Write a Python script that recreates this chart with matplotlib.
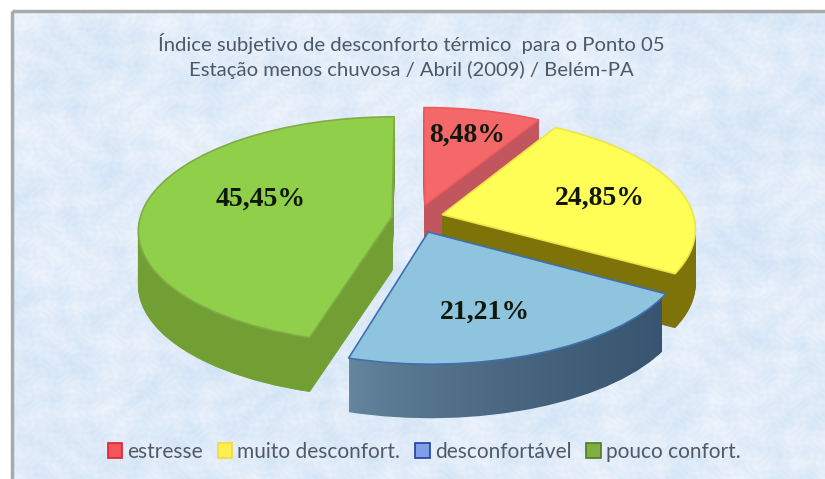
import numpy as np
import matplotlib
matplotlib.use("Agg")
import matplotlib.pyplot as plt
from matplotlib.path import Path
from matplotlib.patches import PathPatch, Patch, Rectangle

title = "Índice subjetivo de desconforto térmico  para o Ponto 05\nEstação menos chuvosa / Abril (2009) / Belém-PA"
categories = ["estresse", "muito desconfort.", "desconfortável", "pouco confort."]
values = [8.48, 24.85, 21.21, 45.45]
labels = ["8,48%", "24,85%", "21,21%", "45,45%"]
explode = [0.12, 0.12, 0.17, 0.08]

top_colors = ["#f4686a", "#ffff57", "#8fc4de", "#90cf49"]
wall_colors = ["#c2565f", "#7d7308", "#4a6478", "#729f33"]
edge_colors = ["#ee5a5e", "#f0e448", "#3f6fb0", "#82ab48"]
legend_face = ["#f2555a", "#ffef50", "#7f9fe8", "#7fae45"]
legend_edge = ["#e02030", "#f5d840", "#1f3fa0", "#4f7a20"]
label_xy = [(467, 135), (600, 198), (485, 312), (261, 199)]
nudge = [(5, 0), (1, 0), (0, -4), (0, 0)]

cx, cy = 412, 218
rx, ry, k = 252, 112, 0.118
depth = 54

fig = plt.figure(figsize=(8.25, 4.79), dpi=100, facecolor="white")
ax = fig.add_axes([0, 0, 1, 1])

# pie gives the unit wedges, they get warped to the tilted view below
wedges, _ = ax.pie(values, explode=explode, startangle=90, counterclock=False)
paths = [w.get_path() for w in wedges]
for w in wedges:
    w.remove()
ax.set_aspect("auto")
ax.set_xlim(0, 825)
ax.set_ylim(479, 0)
ax.axis("off")


def warp(path, i, down=0):
    u, v = path.vertices[:, 0], path.vertices[:, 1]
    s = 1 / (1 + k * v)
    xy = np.column_stack([cx + nudge[i][0] + rx * u * s, cy + nudge[i][1] - ry * v * s + down])
    return Path(xy, path.codes)


# mottled background panel
yy, xx = np.mgrid[0:479, 0:825]
tex = (np.sin(xx / 11 + 2.5 * np.sin(yy / 16)) * np.sin(yy / 9 + 2.5 * np.sin(xx / 21))
       + 0.8 * np.sin(xx / 47 + 2 * np.sin(yy / 29)) * np.sin(yy / 41 + 2 * np.sin(xx / 37))
       + 0.7 * np.sin(xx / 3.1 + 3 * np.sin(yy / 4.3)) * np.sin(yy / 2.9 + 3 * np.sin(xx / 5.3)))
tex = (tex - tex.min()) / (tex.max() - tex.min())
c0 = np.array([0.82, 0.89, 0.96])
c1 = np.array([0.94, 0.96, 0.99])
img = c0 + (c1 - c0) * tex[..., None]
panel = Rectangle((12, 11), 820, 480, fc="none", ec="#a8abad", lw=2.5, zorder=1)
ax.add_patch(panel)
bg = ax.imshow(img, extent=(0, 825, 479, 0), aspect="auto", zorder=0)
bg.set_clip_path(Rectangle((12, 11), 820, 480, transform=ax.transData))

# back to front: red, yellow, green, blue
order = [1, 2, 4, 3]
for i, p in enumerate(paths):
    if i != 2:
        for d in np.arange(depth, 0, -1.0):
            ax.add_patch(PathPatch(warp(p, i, d), fc=wall_colors[i], ec=wall_colors[i], lw=0.6,
                                   zorder=order[i] + 1 + (depth - d) / 100))
    else:
        # blue side has a left to right shading
        stack = Path.make_compound_path(*[warp(p, i, d) for d in np.arange(depth, 0, -1.0)])
        clip = PathPatch(stack, fc="none", ec="none", transform=ax.transData)
        ax.add_patch(clip)
        shade = np.linspace(0, 1, 200)[None, :, None] ** 0.7
        ramp = np.array([0.40, 0.53, 0.62]) + (np.array([0.22, 0.33, 0.44]) - np.array([0.40, 0.53, 0.62])) * shade
        im = ax.imshow(ramp, extent=(349, 662, 440, 220), aspect="auto", zorder=order[i] + 1)
        im.set_clip_path(clip)
    ax.add_patch(PathPatch(warp(p, i), fc=top_colors[i], ec=edge_colors[i], lw=1.2, zorder=order[i] + 2))

ax.set_xlim(0, 825)
ax.set_ylim(479, 0)

for (x, y), lab in zip(label_xy, labels):
    ax.text(x, y, lab, ha="center", va="center", family="Liberation Serif", weight="bold",
            fontsize=20, color="#10180c", zorder=10)

ax.text(411, 56, title, ha="center", va="center", family="Lato", fontsize=14.6,
        color="#4d5866", linespacing=1.45, zorder=10)

handles = [Patch(fc=f, ec=e, lw=1.2) for f, e in zip(legend_face, legend_edge)]
leg = ax.legend(handles, categories, loc="center", bbox_to_anchor=(424 / 825, 1 - 452 / 479),
                ncol=4, frameon=False, handlelength=0.7, handleheight=0.7, handletextpad=0.25,
                columnspacing=0.7, borderpad=0, prop={"family": "Lato", "size": 15})
for t in leg.get_texts():
    t.set_color("#505a66")
leg.set_zorder(10)

fig.savefig("out.png", dpi=100)
